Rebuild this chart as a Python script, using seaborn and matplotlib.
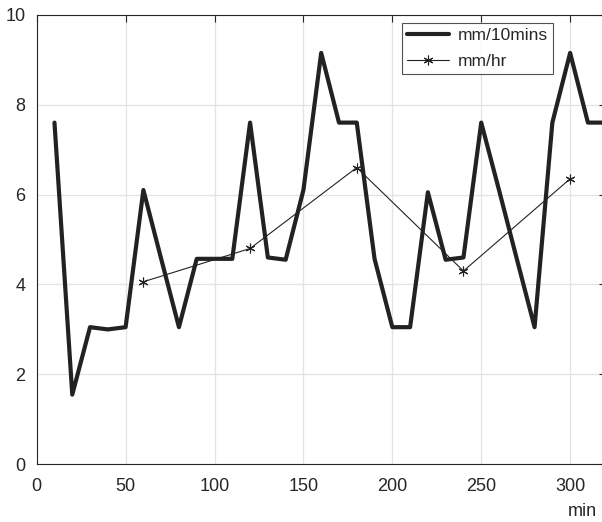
import matplotlib
matplotlib.use("Agg")
import matplotlib.pyplot as plt
import seaborn as sns
import pandas as pd

# Rainfall intensity sampled every 10 minutes, and hourly averages
minutes_10 = [10, 20, 30, 40, 50, 60, 70, 80, 90, 100, 110, 120, 130, 140, 150, 160,
              170, 180, 190, 200, 210, 220, 230, 240, 250, 260, 270, 280, 290, 300, 310, 320]
mm_10mins = [7.6, 1.55, 3.05, 3.0, 3.05, 6.1, 4.57, 3.05, 4.57, 4.57, 4.57, 7.6, 4.6, 4.55, 6.1, 9.15,
             7.6, 7.6, 4.57, 3.05, 3.05, 6.05, 4.55, 4.6, 7.6, 6.1, 4.57, 3.05, 7.6, 9.15, 7.6, 7.6]

minutes_hr = [60, 120, 180, 240, 300]
mm_hr = [4.06, 4.8, 6.6, 4.3, 6.35]

x_ticks = [0, 50, 100, 150, 200, 250, 300]
y_ticks = [0, 2, 4, 6, 8, 10]

df10 = pd.DataFrame({"min": minutes_10, "val": mm_10mins})
dfhr = pd.DataFrame({"min": minutes_hr, "val": mm_hr})

sns.set_style("white")
plt.rcParams["font.family"] = ["Liberation Sans", "DejaVu Sans"]

fig = plt.figure(figsize=(6.02, 5.22), dpi=100)
ax = fig.add_axes([36.7 / 602, 1 - 464.3 / 522, 569.0 / 602, (464.3 - 14.7) / 522])

line_color = "#222222"
asterisk = (6, 2, 0)
sns.lineplot(data=df10, x="min", y="val", ax=ax, color=line_color, linewidth=3.0,
             label="mm/10mins", estimator=None, sort=False)
sns.lineplot(data=dfhr, x="min", y="val", ax=ax, color=line_color, linewidth=0.8,
             marker=asterisk, markersize=7, markeredgewidth=0.8, markeredgecolor=line_color,
             label="mm/hr", estimator=None, sort=False)

ax.set_xlim(0, 320)
ax.set_ylim(0, 10)
ax.set_xticks(x_ticks)
ax.set_yticks(y_ticks)
ax.set_xticklabels([str(t) for t in x_ticks])
ax.set_yticklabels([str(t) for t in y_ticks])
ax.set_xlabel("")
ax.set_ylabel("")

ax.grid(True, color="#e3e3e3", linewidth=0.9)
ax.set_axisbelow(True)
for side in ["left", "bottom", "top", "right"]:
    ax.spines[side].set_color("#262626")
    ax.spines[side].set_linewidth(0.8)
ax.tick_params(axis="x", pad=10)
ax.tick_params(axis="y", pad=8)
ax.tick_params(axis="both", direction="in", length=5, width=0.8, color="#262626",
               labelsize=13, labelcolor="#262626", top=True, right=True)

# legend box anchored at its top-right corner, in axes coordinates
ax_w, ax_h = 569.0, 449.6
leg = ax.legend(loc="upper right",
                bbox_to_anchor=((553 - 36.7) / ax_w, 1 - (22.7 - 14.7) / ax_h),
                frameon=True, fancybox=False, fontsize=12.5, handlelength=2.4,
                borderpad=0.3, labelspacing=0.6, handletextpad=0.5, borderaxespad=0)
leg.get_frame().set_edgecolor("#262626")
leg.get_frame().set_linewidth(0.8)

fig.text(602 - 5, 522 - 511, "min", ha="right", va="center", fontsize=13, color="#262626",
         transform=None)

fig.savefig("out.png", dpi=100)
